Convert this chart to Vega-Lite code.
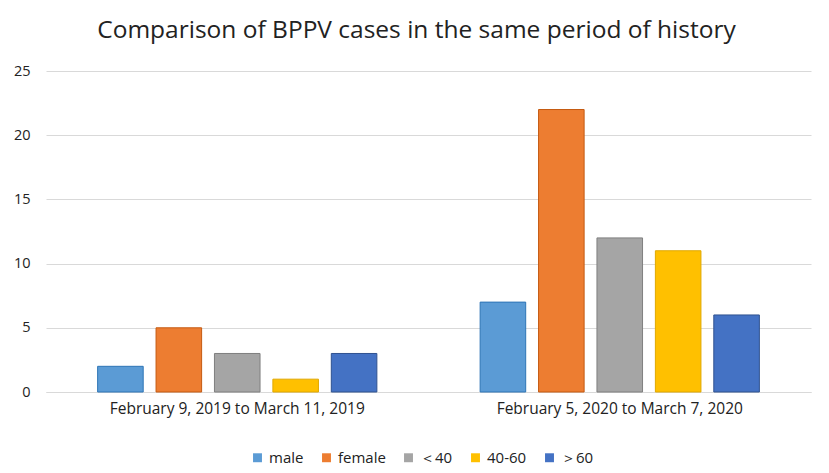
{
  "$schema": "https://vega.github.io/schema/vega-lite/v6.json",
  "autosize": {"type": "none"},
  "padding": {"left": 46, "top": 71, "right": 18, "bottom": 81},
  "width": 765,
  "height": 321,
  "title": {
    "text": "Comparison of BPPV cases in the same period of history",
    "font": "Open Sans",
    "fontSize": 24.5,
    "fontWeight": "normal",
    "color": "#222222",
    "anchor": "middle",
    "frame": "group",
    "dx": -12,
    "offset": 20
  },
  "data": {
    "values": [
      {"period": "February 9, 2019 to March 11, 2019", "group": "male", "cases": 2},
      {"period": "February 9, 2019 to March 11, 2019", "group": "female", "cases": 5},
      {"period": "February 9, 2019 to March 11, 2019", "group": "＜40", "cases": 3},
      {"period": "February 9, 2019 to March 11, 2019", "group": "40-60", "cases": 1},
      {"period": "February 9, 2019 to March 11, 2019", "group": "＞60", "cases": 3},
      {"period": "February 5, 2020 to March 7, 2020", "group": "male", "cases": 7},
      {"period": "February 5, 2020 to March 7, 2020", "group": "female", "cases": 22},
      {"period": "February 5, 2020 to March 7, 2020", "group": "＜40", "cases": 12},
      {"period": "February 5, 2020 to March 7, 2020", "group": "40-60", "cases": 11},
      {"period": "February 5, 2020 to March 7, 2020", "group": "＞60", "cases": 6}
    ]
  },
  "mark": {"type": "bar", "strokeWidth": 1},
  "encoding": {
    "x": {
      "field": "period",
      "type": "nominal",
      "sort": null,
      "title": null,
      "scale": {"paddingInner": 0.27, "paddingOuter": 0.135},
      "axis": {
        "labelAngle": 0,
        "labelFont": "Open Sans",
        "labelFontSize": 15.5,
        "labelLimit": 0,
        "labelColor": "#222222",
        "labelPadding": 9,
        "ticks": false,
        "domainColor": "#d9d9d9",
        "grid": false
      }
    },
    "xOffset": {
      "field": "group",
      "type": "nominal",
      "sort": ["male", "female", "＜40", "40-60", "＞60"],
      "scale": {"paddingInner": 0.22, "paddingOuter": 0}
    },
    "y": {
      "field": "cases",
      "type": "quantitative",
      "title": null,
      "scale": {"domain": [0, 25]},
      "axis": {
        "values": [0, 5, 10, 15, 20, 25],
        "labelFont": "Open Sans",
        "labelFontSize": 14.5,
        "labelColor": "#222222",
        "labelPadding": 16,
        "ticks": false,
        "domain": false,
        "gridColor": "#d9d9d9",
        "gridWidth": 1.2
      }
    },
    "color": {
      "field": "group",
      "type": "nominal",
      "sort": ["male", "female", "＜40", "40-60", "＞60"],
      "scale": {
        "domain": ["male", "female", "＜40", "40-60", "＞60"],
        "range": ["#5B9BD5", "#ED7D31", "#A5A5A5", "#FFC000", "#4472C4"]
      },
      "legend": {
        "title": null,
        "orient": "none",
        "direction": "horizontal",
        "legendX": 204,
        "legendY": 379,
        "symbolType": "square",
        "symbolSize": 80,
        "symbolStrokeWidth": 0,
        "labelFont": "Open Sans",
        "labelFontSize": 15,
        "labelColor": "#222222",
        "columnPadding": 15,
        "labelOffset": 4
      }
    },
    "stroke": {
      "field": "group",
      "type": "nominal",
      "scale": {
        "domain": ["male", "female", "＜40", "40-60", "＞60"],
        "range": ["#2E75B6", "#C55A11", "#7F7F7F", "#E0A800", "#2F528F"]
      },
      "legend": null
    }
  },
  "config": {
    "view": {"stroke": null},
    "background": "white"
  }
}
